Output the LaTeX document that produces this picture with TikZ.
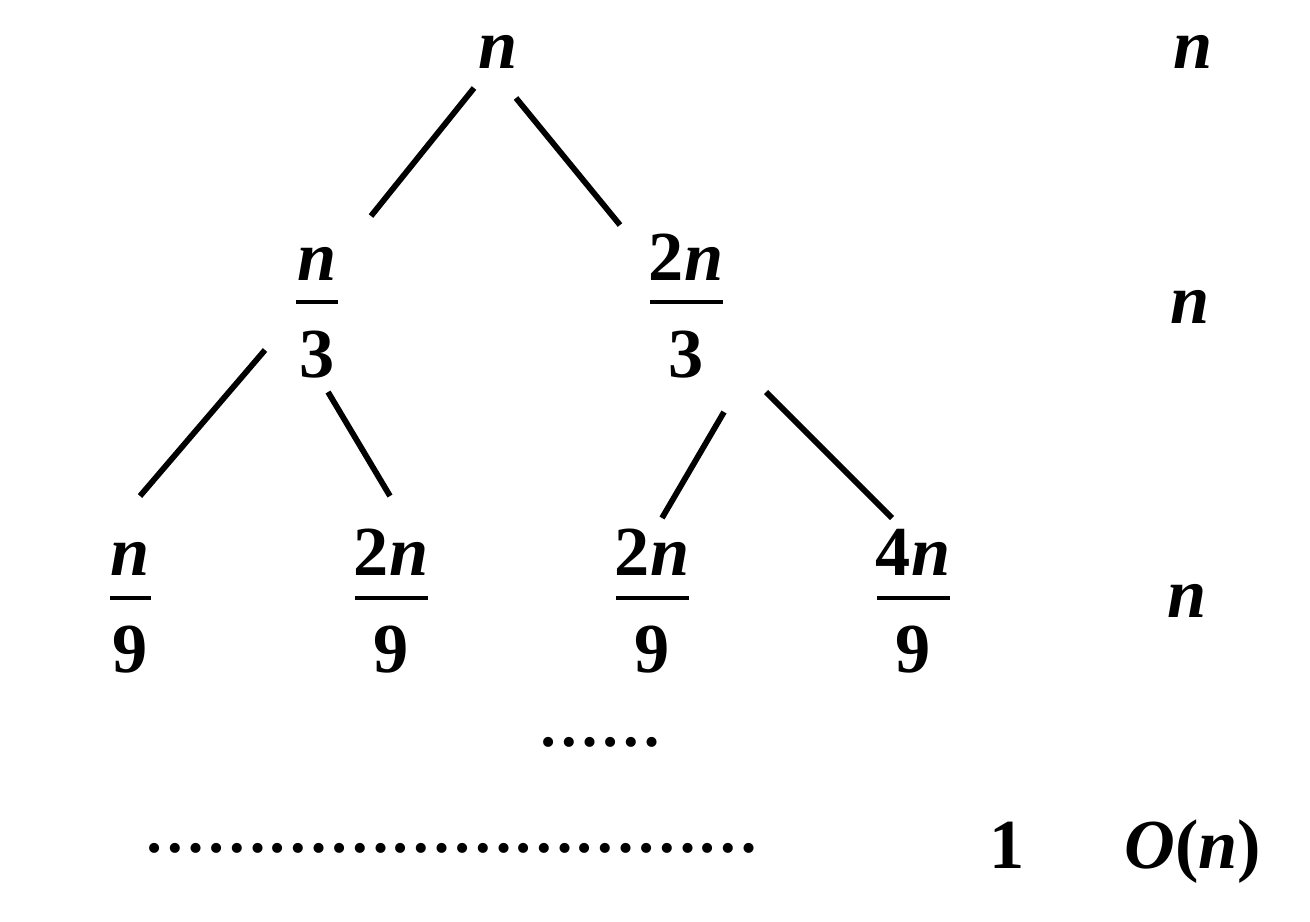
\documentclass[tikz,border=0pt]{standalone}
\usepackage{fontspec}
\setmainfont{Liberation Serif}
\begin{document}
\begin{tikzpicture}[x=0.02cm,y=-0.02cm,
  lbl/.style={inner sep=0pt,anchor=base,font=\fontsize{40}{40}\selectfont\bfseries},
  dotrow/.style={inner sep=0pt,anchor=center,font=\fontsize{35}{35}\selectfont\bfseries},
  edge/.style={line width=3.3pt},
  bar/.style={line width=2pt}]
\useasboundingbox (0,0) rectangle (1310,921);
% root
\node[lbl] (root) at (498,68) {\textit{n}};
% level 1
\node[lbl] (an) at (317,280) {\textit{n}};
\node[lbl] (ad) at (317,377) {3};
\draw[bar] (296,302) -- (338,302);
\node[lbl] (bn) at (686,280) {2\textit{n}};
\node[lbl] (bd) at (686,377) {3};
\draw[bar] (650,302) -- (723,302);
% level 2
\node[lbl] (cn) at (130,575) {\textit{n}};
\node[lbl] (cd) at (130,672) {9};
\draw[bar] (110,598) -- (151,598);
\node[lbl] (dn) at (391,575) {2\textit{n}};
\node[lbl] (dd) at (391,672) {9};
\draw[bar] (355,598) -- (428,598);
\node[lbl] (en) at (652,575) {2\textit{n}};
\node[lbl] (ed) at (652,672) {9};
\draw[bar] (616,598) -- (689,598);
\node[lbl] (fn) at (913,575) {4\textit{n}};
\node[lbl] (fd) at (913,672) {9};
\draw[bar] (877,598) -- (950,598);
% right column
\node[lbl] (r1) at (1193,68) {\textit{n}};
\node[lbl] (r2) at (1190,323) {\textit{n}};
\node[lbl] (r3) at (1187,617) {\textit{n}};
\node[lbl] (one) at (1007,868) {1};
\node[lbl] (on) at (1193,868) {\textit{O}(\textit{n})};
% dots
\node[dotrow] (d1) at (600,742) {……};
\node[dotrow] (d2) at (452,848) {…………………………};
% edges
\coordinate (p1) at (474,88);  \coordinate (q1) at (371,216);
\coordinate (p2) at (516,98);  \coordinate (q2) at (620,225);
\coordinate (p3) at (265,350); \coordinate (q3) at (140,496);
\coordinate (p4) at (328,392); \coordinate (q4) at (390,496);
\coordinate (p5) at (724,412); \coordinate (q5) at (662,518);
\coordinate (p6) at (766,392); \coordinate (q6) at (892,518);
\draw[edge] (p1) -- (q1);
\draw[edge] (p2) -- (q2);
\draw[edge] (p3) -- (q3);
\draw[edge] (p4) -- (q4);
\draw[edge] (p5) -- (q5);
\draw[edge] (p6) -- (q6);
\end{tikzpicture}
\end{document}
